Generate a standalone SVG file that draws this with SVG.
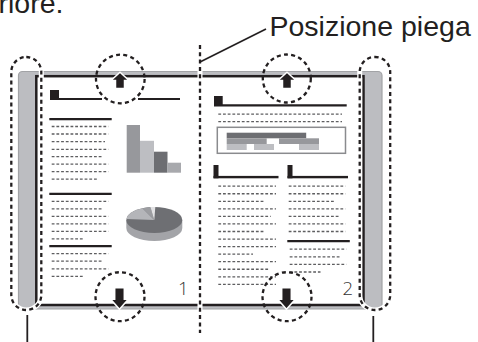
<svg xmlns="http://www.w3.org/2000/svg" width="478" height="342" viewBox="0 0 478 342">
<style>
.txt{font-family:"Liberation Sans",Arial,sans-serif;fill:#231f20}
.num{font-family:"Open Sans","DejaVu Sans",sans-serif;font-weight:300;font-size:18.5px;fill:#333}
.dots{fill:none;stroke:#5e5e60;stroke-width:1.3;stroke-dasharray:2.8 1.9}
.head{fill:none;stroke:#231f20;stroke-width:2.2}
.dash{fill:none;stroke:#231f20;stroke-width:2.3;stroke-dasharray:4 3.3}
.halo{fill:none;stroke:#fff;stroke-width:5}
.arrow{fill:#231f20;stroke:#fff;stroke-width:1.5;stroke-linejoin:miter}
.solid{fill:none;stroke:#231f20;stroke-width:1.8}
</style>
<rect width="478" height="342" fill="#fff"/>
<text class="txt" x="-1.5" y="12.7" font-size="28.5">riore.</text>

<g id="book">
<rect x="18.5" y="71.5" width="363.5" height="237.5" rx="4" fill="#bcbdc1" stroke="#a2a3a6" stroke-width="1.2"/>
<rect x="36.3" y="76.2" width="327.2" height="228.8" fill="#fff" stroke="#231f20" stroke-width="2.5"/>
</g>

<g id="page1">
<rect x="50" y="90" width="9" height="9.5" fill="#231f20"/>
<path class="head" d="M50 99H102M138 99H180"/>
<path class="head" d="M49.3 119.2H111.7M49.3 193.8H111.7M49.3 246.2H111.7"/>
<path class="dots" d="M51.7 126.5H108.3M51.7 134H108.3M51.7 141.7H105M51.7 149.3H108.3M51.7 156.7H103.3M51.7 164.2H108.3M51.7 171.7H108.3M51.7 179.2H98.3"/>
<path class="dots" d="M51.7 201.3H108.3M51.7 208.8H103.3M51.7 216.3H108.3M51.7 223.8H108.3M51.7 231.3H108.3M51.7 238.8H83"/>
<path class="dots" d="M51.7 253.7H108.3M51.7 261.2H102.3M51.7 268.8H108.3M51.7 276.3H82.7"/>
<g id="barchart">
<rect x="126.7" y="125" width="13.3" height="47.7" fill="#97989c"/>
<rect x="140" y="140.8" width="14" height="31.9" fill="#bdbec2"/>
<rect x="154" y="151.7" width="13.5" height="21" fill="#6d6e72"/>
<rect x="167.5" y="162.7" width="13.5" height="10" fill="#a8a9ad"/>
</g>
<g id="pie">
<path d="M126.3 220V228A28 13 0 0 0 182.3 228V220Z" fill="#a3a4a8"/>
<ellipse cx="154.3" cy="220" rx="28" ry="13" fill="#6e6f73"/>
<path d="M154.3 220L126.4 218.9A28 13 0 0 1 142.5 208.2Z" fill="#b4b5b9"/>
<path d="M154.3 220L142.5 208.2A28 13 0 0 1 150.4 207.1Z" fill="#9c9da1"/>
<path d="M154.3 220L150.4 207.1A28 13 0 0 1 155.3 207Z" fill="#e2e2e4"/>
</g>
<text class="num" x="178" y="294.7">1</text>
</g>

<g id="page2">
<rect x="214" y="96" width="8.7" height="10" fill="#231f20"/>
<path class="head" d="M214 105.4H346.7"/>
<path class="dots" d="M218.3 114.2H342M218.3 121.7H342"/>
<rect x="217.3" y="127.3" width="128.2" height="26" fill="#fff" stroke="#8a8b8e" stroke-width="1.5"/>
<rect x="226.7" y="132.7" width="79.5" height="5.6" fill="#6d6e72"/>
<rect x="226.7" y="138.3" width="40" height="5.7" fill="#97989c"/>
<rect x="279" y="138.3" width="40" height="5.7" fill="#97989c"/>
<rect x="226.7" y="144" width="20" height="6" fill="#bdbec2"/>
<rect x="254" y="144" width="20" height="6" fill="#bdbec2"/>
<rect x="299" y="144" width="20" height="6" fill="#bdbec2"/>
<rect x="213.5" y="165" width="5" height="13.3" fill="#231f20"/>
<rect x="213.5" y="175.9" width="65" height="2.4" fill="#231f20"/>
<rect x="287.5" y="165" width="5" height="13.3" fill="#231f20"/>
<rect x="287.5" y="175.9" width="60.5" height="2.4" fill="#231f20"/>
<path class="dots" d="M218.3 186.2H276M218.3 193.75H276M218.3 201.3H265M218.3 208.85H276M218.3 216.4H270.7M218.3 223.95H276M218.3 231.5H265M218.3 239.05H276M218.3 246.6H276M218.3 254.15H253M218.3 261.7H276M218.3 269.25H270M218.3 276.8H276M218.3 284.35H276"/>
<path class="dots" d="M288.7 186.2H345.3M288.7 193.75H345.3M288.7 201.3H335M288.7 208.85H345.3M288.7 216.4H340M288.7 223.95H345.3M288.7 231.5H345.3"/>
<path class="head" d="M287.3 241.2H349.8"/>
<path class="dots" d="M289.7 249.2H346.3M289.7 256.8H340.5M289.7 264.4H346.3M289.7 272H320.5"/>
<text class="num" x="342.5" y="294.7">2</text>
</g>

<g id="arrows">
<path class="arrow" d="M120 72.3L129 80.5H124.5V88.5H115.5V80.5H111Z"/>
<path class="arrow" d="M287 72.3L296 80.5H291.5V88.5H282.5V80.5H278Z"/>
<path class="arrow" d="M119.5 309.3L128.3 299.3H124.3V287.7H114.7V299.3H110.7Z"/>
<path class="arrow" d="M286.5 309.3L295.3 299.3H291.3V287.7H281.7V299.3H277.7Z"/>
</g>

<g id="markers">
<circle class="dash" cx="120.3" cy="79" r="24.3"/>
<circle class="dash" cx="286.8" cy="78.5" r="24"/>
<circle class="dash" cx="120" cy="296.7" r="24.5"/>
<circle class="dash" cx="287" cy="296.7" r="24.5"/>
</g>

<g id="spine-left">
<rect class="halo" x="11.3" y="57" width="30" height="253" rx="15"/>
<rect class="dash" x="11.3" y="57" width="30" height="253" rx="15"/>
</g>
<g id="spine-right">
<rect class="halo" x="359.7" y="57" width="30.5" height="253" rx="15"/>
<rect class="dash" x="359.7" y="57" width="30.5" height="253" rx="15"/>
</g>

<g id="fold">
<line class="halo" x1="200" y1="45" x2="200" y2="333"/>
<line class="dash" x1="200" y1="45" x2="200" y2="333"/>
</g>

<g id="connectors">
<line class="solid" x1="200" y1="62" x2="266" y2="29"/>
<line class="solid" x1="27.3" y1="315" x2="27.3" y2="342"/>
<line class="solid" x1="373.3" y1="316" x2="373.3" y2="342"/>
</g>

<g id="label">
<text class="txt" x="269.5" y="36" font-size="28.5">Posizione piega</text>
</g>
</svg>
